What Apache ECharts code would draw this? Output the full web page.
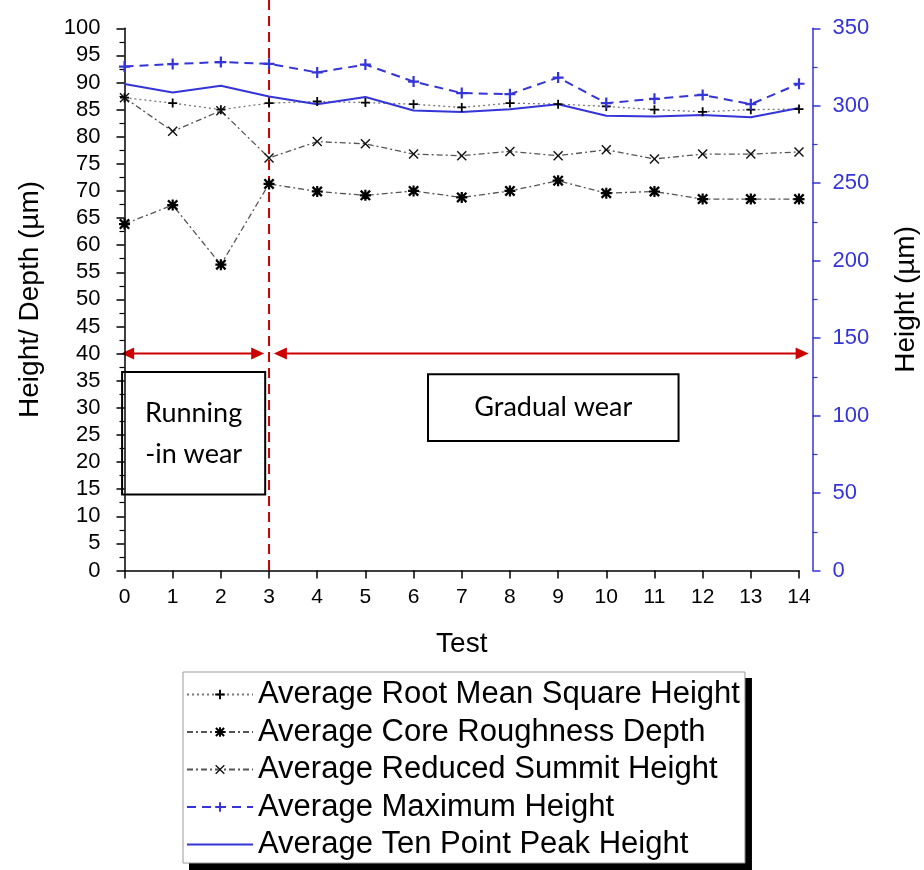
<!DOCTYPE html>
<html>
<head>
<meta charset="utf-8">
<script src="https://cdn.jsdelivr.net/npm/echarts@6/dist/echarts.min.js"></script>
<style>
html,body{margin:0;padding:0;background:#fff;}
#chart{width:924px;height:870px;}
</style>
</head>
<body>
<div id="chart"></div>
<script>
const tests = [0,1,2,3,4,5,6,7,8,9,10,11,12,13,14];
const leftTicks = {min:0, max:100, interval:5};
const rightTicks = {min:0, max:350, interval:50};
const rmsHeight      = [87.2,86.2,85.0,86.2,86.5,86.3,86.0,85.4,86.2,86.0,85.6,85.0,84.6,85.0,85.1];
const coreDepth      = [63.9,67.4,56.4,71.3,69.9,69.2,70.0,68.8,70.0,71.9,69.6,69.9,68.5,68.5,68.5];
const reducedSummit  = [87.2,81.0,84.8,76.1,79.1,78.7,76.8,76.5,77.3,76.5,77.6,75.9,76.8,76.8,77.2];
const maxHeight      = [325.3,326.9,328.2,327.1,321.5,326.6,315.6,308.2,307.5,318.2,301.7,304.5,307.0,301.0,314.2];
const tenPointHeight = [314.0,308.5,312.9,306.0,301.0,305.6,296.9,295.9,297.8,301.0,293.5,293.0,294.1,292.6,298.5];
const seriesNames = ['Average Root Mean Square Height','Average Core Roughness Depth','Average Reduced Summit Height','Average Maximum Height','Average Ten Point Peak Height'];

const pairs = arr => tests.map((t,i)=>[t,arr[i]]);
const BLUE = '#3434d8';
const GRAY = '#555555';
const FONT = '"Liberation Sans", Arial, sans-serif';
const PLUS = 'path://M4,0 H6 V4 H10 V6 H6 V10 H4 V6 H0 V4 H4 Z';
const CROSS = 'path://M0,1 L1,0 L5,4 L9,0 L10,1 L6,5 L10,9 L9,10 L5,6 L1,10 L0,9 L4,5 Z';
const STAR = 'path://M0,1.5 L1.5,0 L5,3.5 L8.5,0 L10,1.5 L6.5,5 L10,8.5 L8.5,10 L5,6.5 L1.5,10 L0,8.5 L3.5,5 Z M4,0 H6 V4 H10 V6 H6 V10 H4 V6 H0 V4 H4 Z M2.5,2.5 H7.5 V7.5 H2.5 Z';

const LEG_LEFT = 183, LEG_TOP = 672;
const chart = echarts.init(document.getElementById('chart'), null, {renderer:'canvas'});
chart.setOption({
  backgroundColor:'#fff',
  animation:false,
  textStyle:{fontFamily:FONT},
  grid:{left:124.5, right:125, top:28.3, bottom:299.5, containLabel:false, outerBoundsMode:'none'},
  legend:{
    orient:'vertical', left:LEG_LEFT, top:LEG_TOP,
    padding:[6,5,2,3],
    itemWidth:66, itemHeight:12, itemGap:4.5,
    backgroundColor:'#fff', borderColor:'#999', borderWidth:1,
    textStyle:{fontSize:31, fontFamily:FONT, color:'#000', lineHeight:33},
    data:[
      {name:seriesNames[0]},
      {name:seriesNames[1]},
      {name:seriesNames[2]},
      {name:seriesNames[3]},
      {name:seriesNames[4], itemStyle:{opacity:0}}
    ]
  },
  xAxis:{
    type:'value', min:0, max:14, interval:1, offset:3,
    name:'Test', nameLocation:'middle', nameGap:57,
    nameTextStyle:{fontSize:28, color:'#000', fontFamily:FONT},
    axisLine:{show:true, lineStyle:{color:'#000', width:1.5}},
    axisTick:{show:true, inside:false, length:8, lineStyle:{color:'#000', width:1.5}},
    axisLabel:{fontSize:21, color:'#000', margin:13, fontFamily:FONT},
    splitLine:{show:false}
  },
  yAxis:[{
    type:'value', min:leftTicks.min, max:leftTicks.max, interval:leftTicks.interval, position:'left', offset:14,
    name:'Height/ Depth (µm)', nameLocation:'middle', nameGap:66, nameRotate:90,
    nameTextStyle:{fontSize:28, color:'#000', fontFamily:FONT},
    axisLine:{show:true, lineStyle:{color:'#000', width:1.5}},
    axisTick:{show:true, inside:false, length:8, lineStyle:{color:'#000', width:1.5}},
    minorTick:{show:true, splitNumber:2, length:5, lineStyle:{color:'#000', width:1.2}},
    axisLabel:{fontSize:22, color:'#000', margin:10, fontFamily:FONT},
    splitLine:{show:false}
  },{
    type:'value', min:rightTicks.min, max:rightTicks.max, interval:rightTicks.interval, position:'right', offset:13.5,
    name:'Height (µm)', nameLocation:'middle', nameGap:80, nameRotate:90,
    nameTextStyle:{fontSize:28, color:'#000', fontFamily:FONT},
    axisLine:{show:true, lineStyle:{color:BLUE, width:1.5}},
    axisTick:{show:true, inside:false, length:8, lineStyle:{color:BLUE, width:1.5}},
    minorTick:{show:true, splitNumber:2, length:5, lineStyle:{color:BLUE, width:1.2}},
    axisLabel:{fontSize:22, color:BLUE, margin:20, fontFamily:FONT},
    splitLine:{show:false}
  }],
  series:[
    {name:seriesNames[0], type:'line', yAxisIndex:0, data:pairs(rmsHeight),
     symbol:PLUS, symbolSize:9, itemStyle:{color:'#000'},
     lineStyle:{color:'#777', width:1.3, type:[2,3]}},
    {name:seriesNames[1], type:'line', yAxisIndex:0, data:pairs(coreDepth),
     symbol:STAR, symbolSize:11, itemStyle:{color:'#000'},
     lineStyle:{color:GRAY, width:1.3, type:[6,3,2,3]}},
    {name:seriesNames[2], type:'line', yAxisIndex:0, data:pairs(reducedSummit),
     symbol:CROSS, symbolSize:10, itemStyle:{color:'#111'},
     lineStyle:{color:GRAY, width:1.3, type:[6,3,2,3]}},
    {name:seriesNames[3], type:'line', yAxisIndex:1, data:pairs(maxHeight),
     symbol:PLUS, symbolSize:11, itemStyle:{color:BLUE},
     lineStyle:{color:BLUE, width:2, type:[9,6]}},
    {name:seriesNames[4], type:'line', yAxisIndex:1, data:pairs(tenPointHeight),
     symbol:'none', itemStyle:{color:BLUE},
     lineStyle:{color:BLUE, width:2, type:'solid'}}
  ]
});

// annotations positioned through the axes' own scales
const P = (x,y) => chart.convertToPixel({xAxisIndex:0, yAxisIndex:0}, [x,y]);
const RED = '#cc0000';
function arrow(x1,x2,y){
  const h = 13, w = 6;
  return {type:'group', children:[
    {type:'line', shape:{x1:x1+h-2, y1:y, x2:x2-h+2, y2:y}, style:{stroke:RED, lineWidth:2}},
    {type:'polygon', shape:{points:[[x1,y],[x1+h,y-w],[x1+h,y+w]]}, style:{fill:RED}},
    {type:'polygon', shape:{points:[[x2,y],[x2-h,y-w],[x2-h,y+w]]}, style:{fill:RED}}
  ]};
}
function box(xa,ya,xb,yb,lines){
  const a = P(xa,ya), b = P(xb,yb);
  const cx = (a[0]+b[0])/2, cy = (a[1]+b[1])/2;
  return {type:'group', children:[
    {type:'rect', shape:{x:a[0], y:a[1], width:b[0]-a[0], height:b[1]-a[1]}, style:{fill:'#fff', stroke:'#000', lineWidth:2}},
    {type:'text', x:cx, y:cy, style:{text:lines, fill:'#000', font:'27px Lato, "Open Sans", sans-serif', align:'center', verticalAlign:'middle', lineHeight:41}}
  ]};
}
// legend drop shadow sized from the legend's rendered box
let legW = 563, legH = 187;
try {
  const lm = chart.getModel().getComponent('legend');
  const view = chart.getViewOfComponentModel(lm);
  const r = view.group.getBoundingRect();
  if (r && r.width > 50) { legW = r.width; legH = r.height; }
} catch(e) {}
const p3top = P(3,100), p3bot = P(3,0);
const a40 = P(0,40)[1];
chart.setOption({graphic:[
  {type:'rect', z:-1, shape:{x:LEG_LEFT+6, y:LEG_TOP+6, width:legW, height:legH}, style:{fill:'#000'}},
  box(-0.05,36.6,2.92,14.0,'Running\n-in wear'),
  box(6.3,36.2,11.5,23.9,'Gradual wear'),
  {type:'line', shape:{x1:p3top[0], y1:0, x2:p3bot[0], y2:p3bot[1]+3}, style:{stroke:RED, lineWidth:2, lineDash:[10,6]}},
  arrow(P(-0.07,0)[0], P(2.9,0)[0], a40),
  arrow(P(3.1,0)[0], P(14.2,0)[0], a40)
]});
</script>
</body>
</html>
